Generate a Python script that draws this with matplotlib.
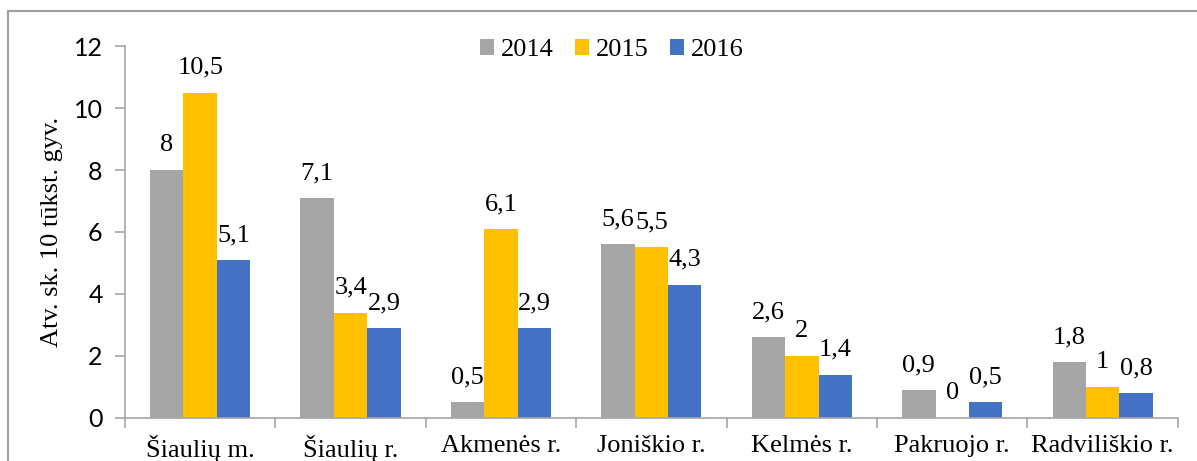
import numpy as np
import matplotlib.pyplot as plt
from matplotlib.lines import Line2D

# ==============================
# Data
# ==============================
kategorijos = ['Šiaulių m.', 'Šiaulių r.', 'Akmenės r.', 'Joniškio r.',
               'Kelmės r.', 'Pakruojo r.', 'Radviliškio r.']
metai = ['2014', '2015', '2016']
v2014 = [8, 7.1, 0.5, 5.6, 2.6, 0.9, 1.8]
v2015 = [10.5, 3.4, 6.1, 5.5, 2, 0, 1]
v2016 = [5.1, 2.9, 2.9, 4.3, 1.4, 0.5, 0.8]
spalvos = ['#A5A5A5', '#FFC000', '#4472C4']

serif = 'Liberation Serif'
fs = 19

fig = plt.figure(figsize=(11.97, 4.61), dpi=100)
ax = fig.add_axes([0.1044, 0.0933, 0.8796, 0.8069])

x = np.arange(len(kategorijos))
w = 0.222
for i, (vals, lab, col) in enumerate(zip([v2014, v2015, v2016], metai, spalvos)):
    bars = ax.bar(x + (i - 1) * w, vals, w, color=col, label=lab)
    for b, v in zip(bars, vals):
        txt = ('%g' % v).replace('.', ',')
        ax.annotate(txt, (b.get_x() + b.get_width() / 2, v),
                    xytext=(0, 10), textcoords='offset points',
                    ha='center', va='bottom', fontsize=fs, family=serif)

ax.set_xlim(-0.5, len(kategorijos) - 0.5)
ax.set_ylim(0, 12)
ax.set_yticks(np.arange(0, 13, 2))
ax.tick_params(axis='y', labelsize=18, length=7, width=1.2, color='#a6a6a6', pad=9)
for t in ax.get_yticklabels():
    t.set_family('Lato')

# ticks at category boundaries, labels at centers
ax.set_xticks(np.arange(len(kategorijos) + 1) - 0.5)
ax.set_xticklabels([])
ax.tick_params(axis='x', which='major', length=7, width=1.2, color='#a6a6a6')
ax.set_xticks(x, minor=True)
ax.set_xticklabels(kategorijos, minor=True, fontsize=fs, family=serif)
ax.tick_params(axis='x', which='minor', length=0, pad=12)

for s in ['top', 'right']:
    ax.spines[s].set_visible(False)
for s in ['left', 'bottom']:
    ax.spines[s].set_color('#a6a6a6')
    ax.spines[s].set_linewidth(1.2)

ax.set_ylabel('Atv. sk. 10 tūkst. gyv.', fontsize=fs, family=serif, labelpad=8)

leg = ax.legend(loc='center', bbox_to_anchor=(0.511, 0.8915), bbox_transform=fig.transFigure,
                ncol=3, frameon=False, prop={'family': serif, 'size': fs},
                handlelength=0.55, handleheight=0.55, handletextpad=0.25,
                columnspacing=0.8, borderaxespad=0)

# chart frame (cut off at right and bottom)
fig.add_artist(Line2D([8 / 1197, 1.0], [1 - 11 / 461] * 2, color='#a0a0a0', lw=1.5,
                      transform=fig.transFigure))
fig.add_artist(Line2D([8 / 1197] * 2, [0, 1 - 11 / 461], color='#a0a0a0', lw=1.5,
                      transform=fig.transFigure))

plt.savefig('out.png', dpi=100)
